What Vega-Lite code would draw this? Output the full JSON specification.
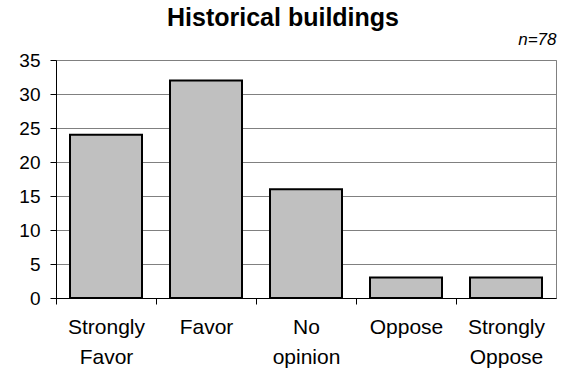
{
  "$schema": "https://vega.github.io/schema/vega-lite/v6.json",
  "width": 500,
  "height": 238,
  "autosize": "none",
  "padding": {"left": 56, "top": 60, "right": 10, "bottom": 77},
  "background": "white",
  "title": {"text": "Historical buildings", "fontSize": 25, "font": "Liberation Sans", "fontWeight": "bold", "color": "black", "anchor": "middle", "dx": -23, "offset": -1},
  "config": {"view": {"stroke": "#808080", "strokeWidth": 1}, "font": "Liberation Sans"},
  "data": {"values": [
    {"response": "Strongly Favor", "count": 24},
    {"response": "Favor", "count": 32},
    {"response": "No opinion", "count": 16},
    {"response": "Oppose", "count": 3},
    {"response": "Strongly Oppose", "count": 3}
  ]},
  "layer": [
    {
      "mark": {"type": "bar", "fill": "#C0C0C0", "stroke": "black", "strokeWidth": 2, "width": {"band": 0.72}},
      "encoding": {
        "x": {"field": "response", "type": "nominal", "sort": null,
          "scale": {"paddingInner": 0, "paddingOuter": 0},
          "axis": {"orient": "bottom", "title": null, "labelAngle": 0, "labelFontSize": 21, "labelColor": "black", "labelFont": "Liberation Sans",
            "labelExpr": "split(datum.label, ' ')", "labelLineHeight": 30, "labelPadding": 12, "labelBaseline": "top", "labelOffset": 50, "labelOverlap": false,
            "domainColor": "black", "domainWidth": 1, "tickColor": "black", "tickSize": 6, "tickOffset": -50, "grid": false}},
        "y": {"field": "count", "type": "quantitative",
          "scale": {"domain": [0, 35], "nice": false},
          "axis": {"title": null, "values": [0, 5, 10, 15, 20, 25, 30, 35], "labelOverlap": false, "labelFontSize": 19, "labelColor": "black", "labelFont": "Liberation Sans",
            "labelPadding": 10, "tickSize": 6, "tickColor": "black", "domainColor": "black", "grid": true, "gridColor": "#808080", "gridWidth": 1}}
      }
    },
    {
      "mark": {"type": "bar", "opacity": 0},
      "encoding": {
        "x": {"field": "response", "type": "nominal", "sort": null,
          "axis": {"orient": "top", "title": "n=78", "titleAnchor": "end", "titleFontStyle": "italic", "titleFontWeight": "normal", "titleFontSize": 17,
            "titleFont": "Liberation Sans", "titleColor": "black", "labels": false, "ticks": false, "domain": false, "titlePadding": 12}},
        "y": {"field": "count", "type": "quantitative", "axis": null}
      }
    }
  ],
  "resolve": {"axis": {"x": "independent", "y": "independent"}}
}
